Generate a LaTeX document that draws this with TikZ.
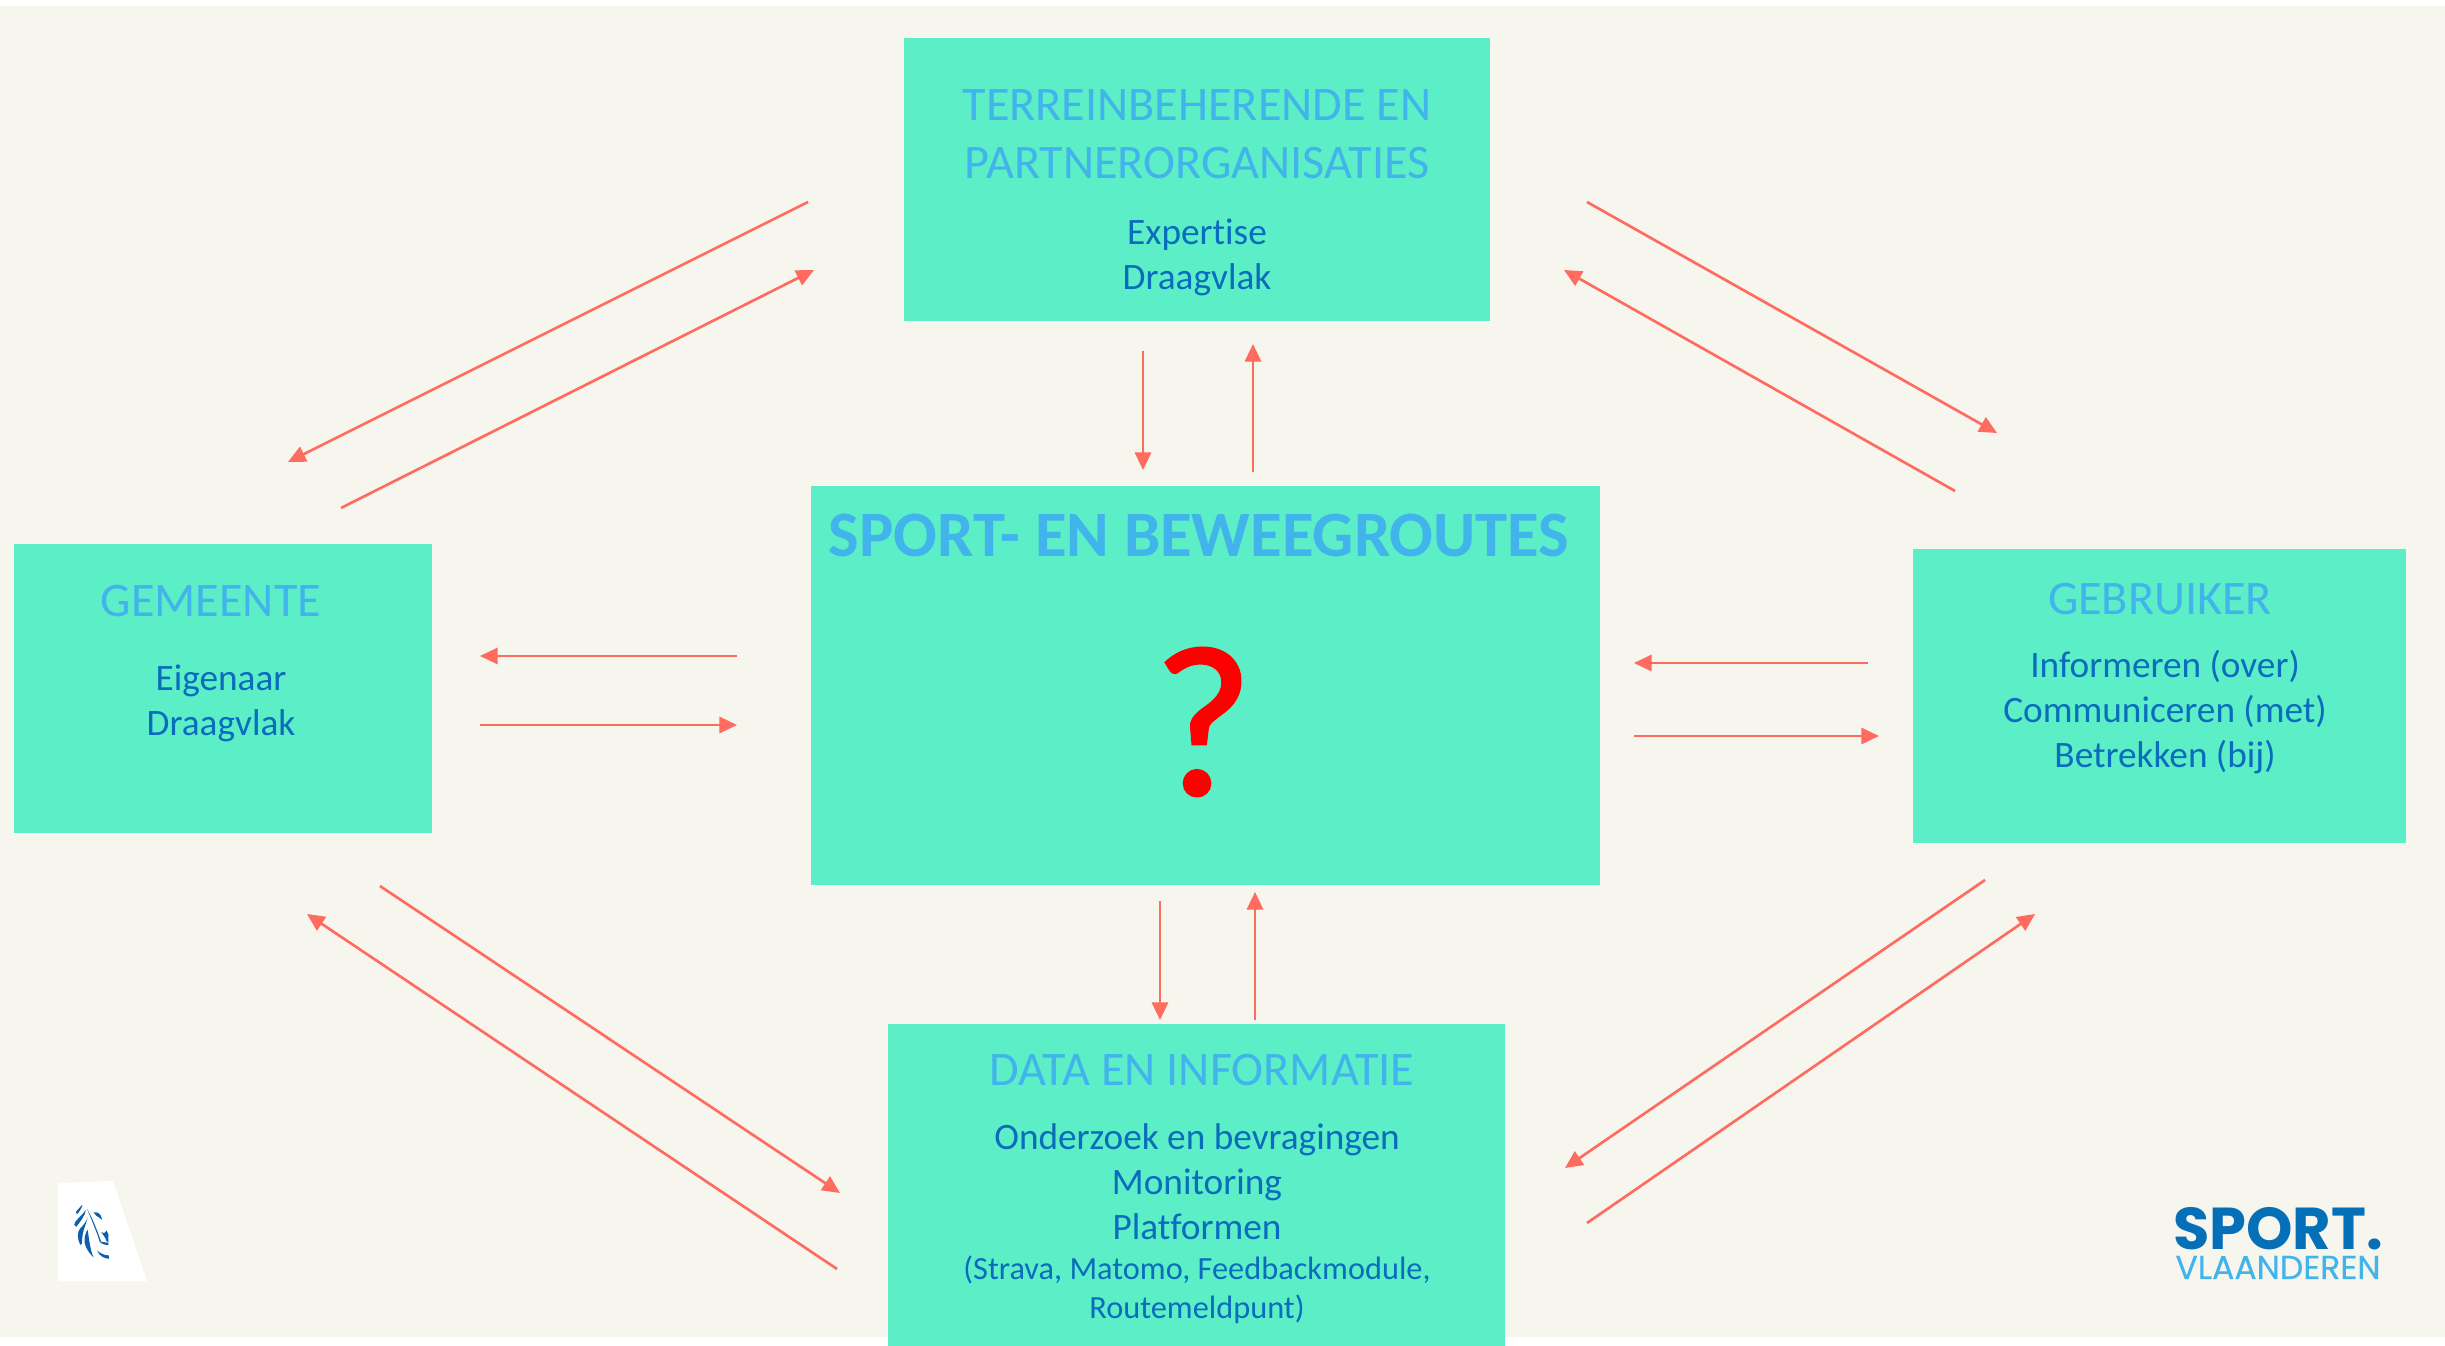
\documentclass[tikz,border=0pt]{standalone}
\usepackage{fontspec}
\setmainfont[Ligatures={NoCommon}]{Carlito}
\newfontfamily\vraagfont[FakeBold=1.4]{Carlito}
\newfontfamily\logofont{Poppins}
\newfontfamily\logomedium[FakeBold=0.35]{Poppins}
\usetikzlibrary{arrows.meta}
\definecolor{paper}{HTML}{F6F5EE}
\definecolor{mint}{HTML}{5CEEC6}
\definecolor{lightblue}{HTML}{41B4EC}
\definecolor{darkblue}{HTML}{0A6CBC}
\definecolor{coral}{HTML}{FF6B5E}
\definecolor{logoblue}{HTML}{0570B8}
\definecolor{lionblue}{HTML}{0B5FAE}

\begin{document}
\begin{tikzpicture}[
		x=0.01cm, y=-0.01cm,
		box/.style={fill=mint, inner sep=0pt},
		head/.style={text=lightblue, font=\fontsize{13.7}{16.6}\selectfont, align=center},
		body/.style={text=darkblue, font=\fontsize{10.6}{12.8}\selectfont, align=center},
		small/.style={text=darkblue, font=\fontsize{9.2}{11}\selectfont, align=center},
		a/.style={-{Triangle[length=5pt, width=4.6pt]}, coral, line width=0.75pt},
	]
		\useasboundingbox (0,0) rectangle (2445,1346);
		\fill[white] (0,0) rectangle (2445,1346);
		\fill[paper] (0,6) rectangle (2445,1337);

		% boxes
		\node[box, minimum width=5.85cm, minimum height=2.83cm] (Terrein) at (1197,179.5) {};
		\node[box, minimum width=7.89cm, minimum height=3.98cm] (Routes) at (1205.5,685.5) {};
		\node[box, minimum width=4.18cm, minimum height=2.89cm] (Gemeente) at (223,688.5) {};
		\node[box, minimum width=4.93cm, minimum height=2.93cm] (Gebruiker) at (2159.5,696) {};
		\node[box, minimum width=6.17cm, minimum height=3.22cm] (Data) at (1196.5,1185) {};

		% texts
		\node[head] (TerreinHead) at (1197,134) {TERREINBEHERENDE EN\\PARTNERORGANISATIES};
		\node[body] (TerreinBody) at (1197,257) {Expertise\\Draagvlak};
		\node[text=lightblue, font=\fontsize{18.4}{22}\selectfont\bfseries] (RoutesHead) at (1199,536) {SPORT- EN BEWEEGROUTES};
		\node[text=red, font=\vraagfont\fontsize{61}{66}\selectfont] (Vraag) at (1203,722) {?};
		\node[head] (GemeenteHead) at (211,601) {GEMEENTE};
		\node[body] (GemeenteBody) at (221,703) {Eigenaar\\Draagvlak};
		\node[head] (GebruikerHead) at (2160,599) {GEBRUIKER};
		\node[body] (GebruikerBody) at (2165,712) {Informeren (over)\\Communiceren (met)\\Betrekken (bij)};
		\node[head] (DataHead) at (1202,1070) {DATA EN INFORMATIE};
		\node[body] (DataBody) at (1197,1182) {Onderzoek en bevragingen\\Monitoring\\Platformen};
		\node[small] (DataSmall) at (1197,1290) {(Strava, Matomo, Feedbackmodule,\\Routemeldpunt)};

		% free ends of the arrows
		\coordinate (tl1) at (808,202); \coordinate (tl2) at (288,462);
		\coordinate (tl3) at (341,508); \coordinate (tl4) at (814,270);
		\coordinate (tr1) at (1587,202); \coordinate (tr2) at (1997,433);
		\coordinate (tr3) at (1955,491); \coordinate (tr4) at (1564,270);
		\coordinate (tc1) at (1143,351); \coordinate (tc2) at (1143,470);
		\coordinate (tc3) at (1253,472); \coordinate (tc4) at (1253,344);
		\coordinate (ml1) at (737,656); \coordinate (ml2) at (480,656);
		\coordinate (ml3) at (480,725); \coordinate (ml4) at (737,725);
		\coordinate (mr1) at (1868,663); \coordinate (mr2) at (1634,663);
		\coordinate (mr3) at (1634,736); \coordinate (mr4) at (1879,736);
		\coordinate (bc1) at (1160,901); \coordinate (bc2) at (1160,1020);
		\coordinate (bc3) at (1255,1020); \coordinate (bc4) at (1255,892);
		\coordinate (bl1) at (380,886); \coordinate (bl2) at (840,1193);
		\coordinate (bl3) at (837,1269); \coordinate (bl4) at (307,914);
		\coordinate (br1) at (1985,880); \coordinate (br2) at (1565,1168);
		\coordinate (br3) at (1587,1223); \coordinate (br4) at (2035,914);

		\draw[a] (tl1) -- (tl2);
		\draw[a] (tl3) -- (tl4);
		\draw[a] (tr1) -- (tr2);
		\draw[a] (tr3) -- (tr4);
		\draw[a] (tc1) -- (tc2);
		\draw[a] (tc3) -- (tc4);
		\draw[a] (ml1) -- (ml2);
		\draw[a] (ml3) -- (ml4);
		\draw[a] (mr1) -- (mr2);
		\draw[a] (mr3) -- (mr4);
		\draw[a] (bc1) -- (bc2);
		\draw[a] (bc3) -- (bc4);
		\draw[a] (bl1) -- (bl2);
		\draw[a] (bl3) -- (bl4);
		\draw[a] (br1) -- (br2);
		\draw[a] (br3) -- (br4);

		% logos
		\fill[white] (58,1183) -- (113,1181) -- (147,1281) -- (58,1281) -- cycle;
		\begin{scope}[yshift=-11.30cm, x=0.00333cm, y=-0.00333cm]
			\fill[lionblue] (248,222) .. controls (245,234) and (238,245) .. (231,251) -- (228,244) .. controls (233,236) and (242,230) .. (248,222) -- cycle;
			\fill[lionblue] (258,238) .. controls (256,255) and (240,275) .. (229,289) -- (223,282) .. controls (226,268) and (246,256) .. (258,238) -- cycle;
			\fill[lionblue] (263,262) .. controls (260,280) and (246,300) .. (246,340) -- (241,343) .. controls (232,325) and (232,305) .. (240,295) .. controls (250,285) and (258,275) .. (263,262) -- cycle;
			\fill[lionblue] (262,235) .. controls (272,262) and (285,290) .. (296,322) .. controls (298,335) and (302,342) .. (326,344) -- (326,337) -- (304,334) .. controls (292,300) and (280,268) .. (262,235) -- cycle;
			\fill[lionblue] (263,297) .. controls (248,325) and (250,350) .. (281,381) .. controls (270,355) and (268,325) .. (263,297) -- cycle;
			\fill[lionblue] (304,304) .. controls (312,310) and (318,308) .. (320,300) -- (326,312) -- (326,337) -- (319,330) .. controls (318,322) and (310,314) .. (304,304) -- cycle;
			\fill[lionblue] (292,360) .. controls (302,370) and (314,374) .. (327,375) -- (327,385) .. controls (312,384) and (298,376) .. (292,360) -- cycle;
			\fill[lionblue] (281,246) .. controls (292,243) and (304,248) .. (307,268) .. controls (302,260) and (292,262) .. (281,246) -- cycle;
		\end{scope}
		\node[align=center, inner sep=0pt] (Logo) at (2278,1243) {{\color{logoblue}\logofont\fontsize{16.8}{9.4}\selectfont\bfseries SPORT.}\\[-3.5pt]{\color{lightblue}\logomedium\fontsize{9.4}{9.4}\selectfont VLAANDEREN}};
	\end{tikzpicture}
\end{document}
